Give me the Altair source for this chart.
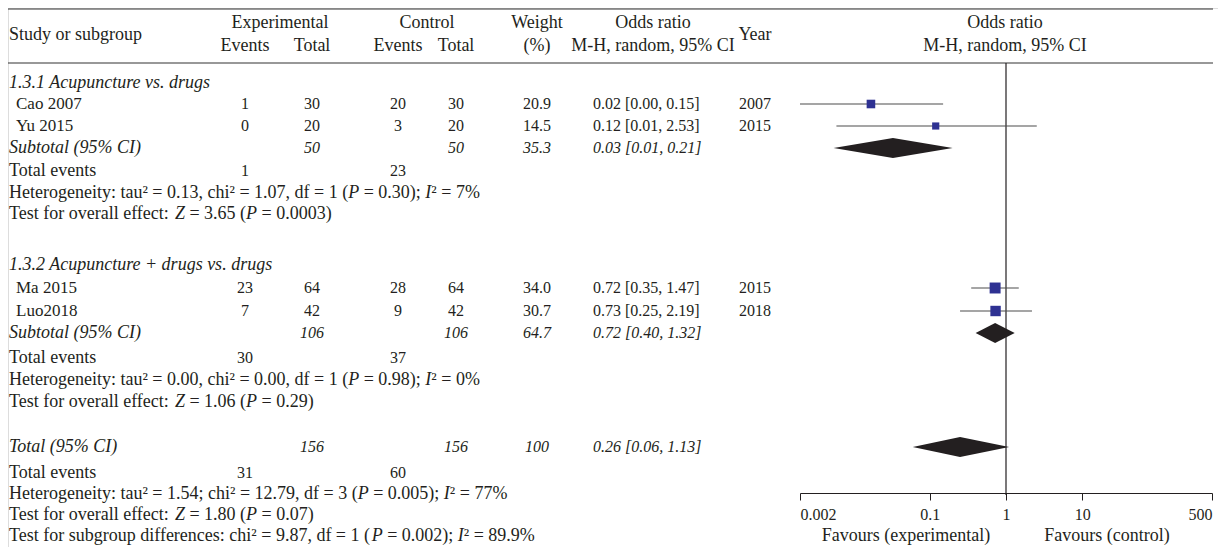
import re
import altair as alt
import pandas as pd

FONT = "Liberation Serif"
FS_TXT = 18
FS_NUM = 16
INK = "#231F20"
BLUE = "#2E3192"
GREY = "#4D4D4D"
W, H = 1210, 539

# ---------------- data ----------------
studies = ["Cao 2007", "Yu 2015", "Ma 2015", "Luo2018"]
exp_events = ["1", "0", "23", "7"]
exp_total = ["30", "20", "64", "42"]
ctl_events = ["20", "3", "28", "9"]
ctl_total = ["30", "20", "64", "42"]
weights = [20.9, 14.5, 34.0, 30.7]
weight_text = ["20.9", "14.5", "34.0", "30.7"]
or_text = ["0.02 [0.00, 0.15]", "0.12 [0.01, 2.53]", "0.72 [0.35, 1.47]", "0.73 [0.25, 2.19]"]
years = ["2007", "2015", "2015", "2018"]
or_est = [0.017, 0.12, 0.72, 0.73]
or_lo = [0.002, 0.006, 0.35, 0.25]
or_hi = [0.15, 2.53, 1.47, 2.19]

group_titles = ["1.3.1 Acupuncture vs. drugs", "1.3.2 Acupuncture + drugs vs. drugs"]
sub_exp_total = ["50", "106"]
sub_ctl_total = ["50", "106"]
sub_weight = ["35.3", "64.7"]
sub_or_text = ["0.03 [0.01, 0.21]", "0.72 [0.40, 1.32]"]
sub_est = [0.033, 0.72]
sub_lo = [0.0055, 0.40]
sub_hi = [0.20, 1.30]
sub_ev_exp = ["1", "30"]
sub_ev_ctl = ["23", "37"]
sub_het = ["Heterogeneity: tau² = 0.13, chi² = 1.07, df = 1 (P = 0.30); I² = 7%",
           "Heterogeneity: tau² = 0.00, chi² = 0.00, df = 1 (P = 0.98); I² = 0%"]
sub_test = ["Test for overall effect: Z = 3.65 (P = 0.0003)",
            "Test for overall effect: Z = 1.06 (P = 0.29)"]

tot_exp_total = "156"
tot_ctl_total = "156"
tot_weight = "100"
tot_or_text = "0.26 [0.06, 1.13]"
tot_est, tot_lo, tot_hi = 0.25, 0.06, 1.1
tot_ev_exp, tot_ev_ctl = "31", "60"
tot_het = "Heterogeneity: tau² = 1.54; chi² = 12.79, df = 3 (P = 0.005); I² = 77%"
tot_test = "Test for overall effect: Z = 1.80 (P = 0.07)"
sg_test = "Test for subgroup differences: chi² = 9.87, df = 1 (P = 0.002); I² = 89.9%"

axis_ticks = [0.002, 0.1, 1, 10, 500]

# ---------------- layout (page rows / columns) ----------------
ROW_STUDY = [104, 126, 288, 311]
ROW_GROUP = [83, 265]
ROW_SUB = [148, 333]
ROW_TE = [171, 358]
ROW_HET = [193, 380]
ROW_TEST = [214, 402]
ROW_TOT, ROW_TOT_TE, ROW_TOT_HET, ROW_TOT_TEST, ROW_SG = 447, 473, 494, 515, 536
ROW_H1, ROW_H2, ROW_HMID = 23, 46, 35
RULES = [9, 63]
VLINE = (63, 495)
FAV_ROW = 536
DIA_HALF = 10

X_NAME, X_STUDY = 1, 8
X_EEV, X_ETOT, X_CEV, X_CTOT, X_WT = 237, 304, 390, 448, 529
X_OR, X_ORH, X_YEAR = 585, 645, 747
X_EXPH, X_CTLH = 272, 419
X_RH = 997
X_FAV_E, X_FAV_C = 898, 1099

# Times / Liberation Serif advance widths (1/1000 em) used to place italic symbols
_W = {" ": 250, "!": 333, "%": 833, "(": 333, ")": 333, "+": 564, ",": 250, "-": 333,
      ".": 250, ":": 278, ";": 278, "=": 564, "[": 333, "]": 333, "²": 300}
_W.update({d: 500 for d in "0123456789"})
_W.update(dict(zip("ABCDEFGHIJKLMNOPQRSTUVWXYZ",
                   [722, 667, 667, 722, 611, 556, 722, 722, 333, 389, 722, 611, 889,
                    722, 722, 556, 722, 667, 556, 611, 722, 722, 944, 722, 722, 611])))
_W.update(dict(zip("abcdefghijklmnopqrstuvwxyz",
                   [444, 500, 444, 500, 444, 333, 500, 500, 278, 278, 500, 278, 778,
                    500, 500, 500, 500, 333, 389, 278, 500, 500, 722, 500, 500, 444])))
_WI = {"P": 611, "Z": 556, "I": 333}


def text_width(s, size, italic=False):
    tab = dict(_W, **_WI) if italic else _W
    return sum(tab.get(c, 500) for c in s) * size / 1000.0


ys = alt.Scale(domain=[8, 8 + H], range=[0, H], nice=False, zero=False)
xs = alt.Scale(type="log", domain=[0.002, 500], range=[792, 1204], nice=False)
AX = alt.Axis(values=axis_ticks, format="~g", labelFlush=True, offset=-(8 + H - 493),
              tickSize=7, labelPadding=6, domainColor=INK, tickColor=INK,
              labelColor=INK, labelFont=FONT, labelFontSize=FS_NUM, title=None,
              grid=False, domainWidth=1, tickWidth=1, orient="bottom")

cells = []


def add(y, x, align, italic, t, size=FS_TXT):
    cells.append(dict(y=y, x=round(x, 2), align=align, italic=italic, size=size, t=t))


def add_stat(y, x, t, size=FS_TXT):
    """statistics line: the symbols P, Z and I are set in italics"""
    parts = re.split(r"((?<![A-Za-z])[PZI](?=[ ²]))", t)
    cx = x
    for k, p in enumerate(parts):
        if not p:
            continue
        ital = (k % 2 == 1)
        lead = len(p) - len(p.lstrip(" "))
        if lead:  # leading blanks are collapsed by SVG: turn them into an offset
            cx += text_width(" " * lead, size)
            p = p.lstrip(" ")
        add(y, cx, "left", ital, p, size)
        cx += text_width(p, size, ital)


# header
add(ROW_HMID, X_NAME, "left", False, "Study or subgroup")
add(ROW_H1, X_EXPH, "center", False, "Experimental")
add(ROW_H2, X_EEV, "center", False, "Events")
add(ROW_H2, X_ETOT, "center", False, "Total")
add(ROW_H1, X_CTLH, "center", False, "Control")
add(ROW_H2, X_CEV, "center", False, "Events")
add(ROW_H2, X_CTOT, "center", False, "Total")
add(ROW_H1, X_WT, "center", False, "Weight")
add(ROW_H2, X_WT, "center", False, "(%)")
add(ROW_H1, X_ORH, "center", False, "Odds ratio")
add(ROW_H2, X_ORH, "center", False, "M-H, random, 95% CI")
add(ROW_HMID, X_YEAR, "center", False, "Year")
add(ROW_H1, X_RH, "center", False, "Odds ratio")
add(ROW_H2, X_RH, "center", False, "M-H, random, 95% CI")

for i in range(4):
    y = ROW_STUDY[i]
    add(y, X_STUDY, "left", False, studies[i], 17)
    add(y, X_EEV, "center", False, exp_events[i], FS_NUM)
    add(y, X_ETOT, "center", False, exp_total[i], FS_NUM)
    add(y, X_CEV, "center", False, ctl_events[i], FS_NUM)
    add(y, X_CTOT, "center", False, ctl_total[i], FS_NUM)
    add(y, X_WT, "center", False, weight_text[i], FS_NUM)
    add(y, X_OR, "left", False, or_text[i], FS_NUM)
    add(y, X_YEAR, "center", False, years[i], FS_NUM)

for g in range(2):
    add(ROW_GROUP[g], X_NAME, "left", True, group_titles[g])
    add(ROW_SUB[g], X_NAME, "left", True, "Subtotal (95% CI)")
    add(ROW_SUB[g], X_ETOT, "center", True, sub_exp_total[g], FS_NUM)
    add(ROW_SUB[g], X_CTOT, "center", True, sub_ctl_total[g], FS_NUM)
    add(ROW_SUB[g], X_WT, "center", True, sub_weight[g], FS_NUM)
    add(ROW_SUB[g], X_OR, "left", True, sub_or_text[g], FS_NUM)
    add(ROW_TE[g], X_NAME, "left", False, "Total events")
    add(ROW_TE[g], X_EEV, "center", False, sub_ev_exp[g], FS_NUM)
    add(ROW_TE[g], X_CEV, "center", False, sub_ev_ctl[g], FS_NUM)
    add_stat(ROW_HET[g], X_NAME, sub_het[g])
    add_stat(ROW_TEST[g], X_NAME, sub_test[g])

add(ROW_TOT, X_NAME, "left", True, "Total (95% CI)")
add(ROW_TOT, X_ETOT, "center", True, tot_exp_total, FS_NUM)
add(ROW_TOT, X_CTOT, "center", True, tot_ctl_total, FS_NUM)
add(ROW_TOT, X_WT, "center", True, tot_weight, FS_NUM)
add(ROW_TOT, X_OR, "left", True, tot_or_text, FS_NUM)
add(ROW_TOT_TE, X_NAME, "left", False, "Total events")
add(ROW_TOT_TE, X_EEV, "center", False, tot_ev_exp, FS_NUM)
add(ROW_TOT_TE, X_CEV, "center", False, tot_ev_ctl, FS_NUM)
add_stat(ROW_TOT_HET, X_NAME, tot_het)
add_stat(ROW_TOT_TEST, X_NAME, tot_test)
add_stat(ROW_SG, X_NAME, sg_test)
add(FAV_ROW, X_FAV_E, "center", False, "Favours (experimental)")
add(FAV_ROW, X_FAV_C, "center", False, "Favours (control)")

cdf = pd.DataFrame(cells)
layers = []

# horizontal rules
rules_df = pd.DataFrame({"y": RULES})
layers.append(alt.Chart(rules_df).mark_rule(color="#333333", strokeWidth=1.2).encode(
    x=alt.value(0), x2=alt.value(1205), y=alt.Y("y:Q", scale=ys, axis=None)))

# vertical line of no effect
vdf = pd.DataFrame({"v": [1], "y1": [VLINE[0]], "y2": [VLINE[1]]})
layers.append(alt.Chart(vdf).mark_rule(color=INK, strokeWidth=1.2).encode(
    x=alt.X("v:Q", scale=xs, axis=AX), y=alt.Y("y1:Q", scale=ys, axis=None), y2="y2:Q"))

# study CIs and squares
sdf = pd.DataFrame({"study": studies, "est": or_est, "lo": or_lo, "hi": or_hi,
                    "w": weights, "y": ROW_STUDY})
layers.append(alt.Chart(sdf).mark_rule(color=GREY, strokeWidth=1.2).encode(
    x=alt.X("lo:Q", scale=xs, axis=AX), x2="hi:Q", y=alt.Y("y:Q", scale=ys, axis=None)))
layers.append(alt.Chart(sdf).mark_point(shape="square", filled=True, opacity=1, color=BLUE).encode(
    x=alt.X("est:Q", scale=xs, axis=AX), y=alt.Y("y:Q", scale=ys, axis=None),
    size=alt.Size("w:Q", scale=alt.Scale(domain=[0, 34], range=[0, 120]), legend=None)))

# diamonds
pts = []
dia = [("s1", sub_lo[0], sub_est[0], sub_hi[0], ROW_SUB[0]),
       ("s2", sub_lo[1], sub_est[1], sub_hi[1], ROW_SUB[1]),
       ("tot", tot_lo, tot_est, tot_hi, ROW_TOT)]
for name, lo, est, hi, yc in dia:
    pts.append(dict(id=name, x=lo, y=yc, y2=yc))
    pts.append(dict(id=name, x=est, y=yc - DIA_HALF, y2=yc + DIA_HALF))
    pts.append(dict(id=name, x=hi, y=yc, y2=yc))
ddf = pd.DataFrame(pts)
layers.append(alt.Chart(ddf).mark_area(color=INK, opacity=1).encode(
    x=alt.X("x:Q", scale=xs, axis=AX), y=alt.Y("y:Q", scale=ys, axis=None), y2="y2:Q",
    detail="id:N"))

# text layers
for (x, align, italic, size), grp in cdf.groupby(["x", "align", "italic", "size"]):
    layers.append(alt.Chart(grp.reset_index(drop=True)).mark_text(
        align=align, baseline="middle", font=FONT, fontSize=float(size),
        fontStyle="italic" if italic else "normal", color=INK).encode(
        x=alt.value(float(x)), y=alt.Y("y:Q", scale=ys, axis=None), text="t:N"))

chart = alt.layer(*layers).properties(
    width=W, height=H, padding=0, autosize=alt.AutoSizeParams(type="none")
).configure_view(stroke=None).configure(background="white")

chart.save("out.html", embed_options={"renderer": "svg", "actions": False})
